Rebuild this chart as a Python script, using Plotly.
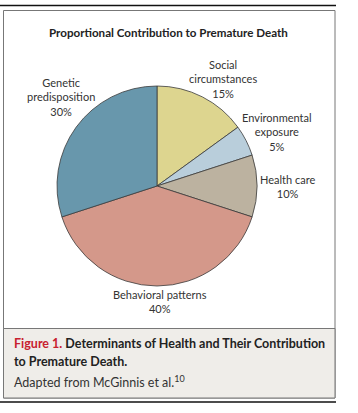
import plotly.graph_objects as go

labels = ["Social circumstances", "Environmental exposure", "Health care",
          "Behavioral patterns", "Genetic predisposition"]
values = [15, 5, 10, 40, 30]
colors = ["#DDD58F", "#B9CEDB", "#BCB2A0", "#D4988A", "#6897AC"]
label_text = ["Social<br>circumstances<br>15%", "Environmental<br>exposure<br>5%",
              "Health care<br>10%", "Behavioral patterns<br>40%",
              "Genetic<br>predisposition<br>30%"]
label_pos = [(223, 79), (277, 132), (287, 186), (160, 301), (61, 97)]

W, H = 358, 413
def px(x): return x / W
def py(y): return 1 - y / H

fig = go.Figure(go.Pie(
    labels=labels, values=values, sort=False, direction="clockwise",
    rotation=0, textinfo="none", hoverinfo="label+percent",
    marker=dict(colors=colors, line=dict(color="#3a3a3a", width=0.8)),
    domain=dict(x=[px(57), px(257)], y=[py(286), py(86)]),
    showlegend=False,
))

shapes = [
    dict(type="line", xref="paper", yref="paper", x0=0, x1=px(336), y0=py(5.5), y1=py(5.5),
         line=dict(color="#111", width=1.5)),
    dict(type="rect", xref="paper", yref="paper", x0=px(3.5), x1=px(335), y0=py(398), y1=py(10.5),
         line=dict(color="#777", width=1), fillcolor="white", layer="below"),
    dict(type="rect", xref="paper", yref="paper", x0=px(3.5), x1=px(335), y0=py(398), y1=py(328.5),
         line=dict(color="#777", width=1), fillcolor="#EFEDE9", layer="below"),
    dict(type="line", xref="paper", yref="paper", x0=0, x1=px(336), y0=py(402), y1=py(402),
         line=dict(color="#111", width=1.5)),
]

font_family = "Lato, Open Sans, sans-serif"
annotations = [
    dict(text="<b>Proportional Contribution to Premature Death</b>", x=px(168), y=py(32),
         xref="paper", yref="paper", showarrow=False, xanchor="center", yanchor="middle",
         font=dict(size=11.6, color="#222", family=font_family)),
]
for t, (x, y) in zip(label_text, label_pos):
    annotations.append(dict(text=t, x=px(x), y=py(y), xref="paper", yref="paper",
                            showarrow=False, xanchor="center", yanchor="middle",
                            font=dict(size=11, color="#333", family=font_family)))
annotations += [
    dict(text="<span style='color:#C8202F'>Figure 1.</span> Determinants of Health and Their Contribution",
         x=px(12), y=py(343), xref="paper", yref="paper", showarrow=False,
         xanchor="left", yanchor="middle",
         font=dict(size=12.5, color="#222", family=font_family, weight="bold")),
    dict(text="to Premature Death.", x=px(12), y=py(361), xref="paper", yref="paper",
         showarrow=False, xanchor="left", yanchor="middle",
         font=dict(size=12.5, color="#222", family=font_family, weight="bold")),
    dict(text="Adapted from McGinnis et al.<sup><span style='font-size:9px'>10</span></sup>",
         x=px(12), y=py(381),
         xref="paper", yref="paper", showarrow=False, xanchor="left", yanchor="middle",
         font=dict(size=12.5, color="#333", family=font_family)),
]

fig.update_layout(width=W, height=H, autosize=False,
                  margin=dict(l=0, r=0, t=0, b=0),
                  paper_bgcolor="white", plot_bgcolor="white",
                  shapes=shapes, annotations=annotations)
fig.write_html("out.html", config={"displayModeBar": False},
               post_script="document.body.style.margin='0';")
